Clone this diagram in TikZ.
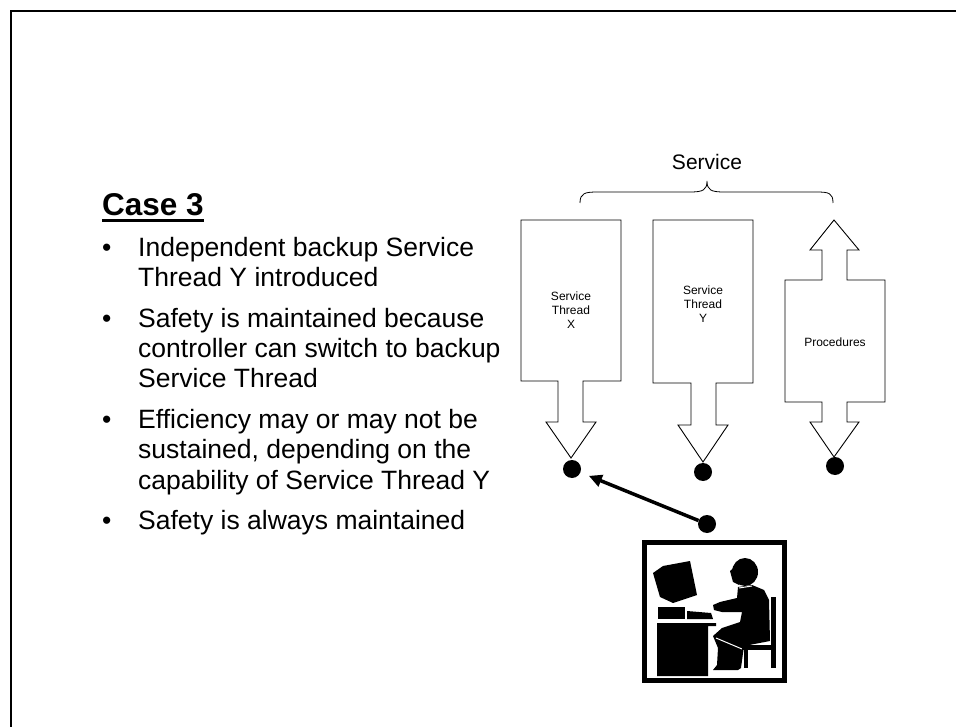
\documentclass[tikz,border=0pt]{standalone}
\usepackage{fontspec}
\setmainfont{Liberation Sans}
\usetikzlibrary{arrows.meta}
\begin{document}
\begin{tikzpicture}[x=1pt,y=-1pt,
  shapeline/.style={draw=black,line width=0.9pt,fill=white,line join=miter},
  dotnode/.style={circle,fill=black,inner sep=0pt,minimum size=18pt},
  bodytext/.style={anchor=base west,inner sep=0pt,font=\fontsize{26.5}{30}\selectfont},
  smalltext/.style={inner sep=0pt,align=center,font=\fontsize{12}{14}\selectfont},
  sil/.style={fill=black,draw=none}
]
\useasboundingbox (0,0) rectangle (956,727);
% frame
\draw[line width=2pt] (11,760) -- (11,11) -- (990,11);

% left text
\node[anchor=base west,inner sep=0pt,font=\fontsize{31.5}{34}\bfseries\selectfont] (case) at (102,216) {Case 3};
\draw[line width=2.5pt] ([yshift=-4.5pt]case.base west) -- ([yshift=-4.5pt]case.base east);

\node[bodytext] (b1) at (102,257) {•};
\node[bodytext] (l1) at (138,257) {Independent backup Service};
\node[bodytext] (l2) at (138,287) {Thread Y introduced};
\node[bodytext] (b2) at (102,327) {•};
\node[bodytext] (l3) at (138,327) {Safety is maintained because};
\node[bodytext] (l4) at (138,358) {controller can switch to backup};
\node[bodytext] (l5) at (138,388) {Service Thread};
\node[bodytext] (b3) at (102,428) {•};
\node[bodytext] (l6) at (138,428) {Efficiency may or may not be};
\node[bodytext] (l7) at (138,458) {sustained, depending on the};
\node[bodytext] (l8) at (138,489) {capability of Service Thread Y};
\node[bodytext] (b4) at (102,529) {•};
\node[bodytext] (l9) at (138,529) {Safety is always maintained};

% brace and label
\node[anchor=base,inner sep=0pt,font=\fontsize{21}{24}\selectfont] (svc) at (707,170) {Service};
\draw[line width=0.8pt] (580,203) .. controls (580,193) and (585,192) .. (598,192) -- (690,192) .. controls (703,192) and (707,190) .. (707,181) .. controls (707,190) and (711,192) .. (724,192) -- (816,192) .. controls (829,192) and (833,193) .. (833,203);

% Thread X
\draw[shapeline] (521,220) -- (621,220) -- (621,381) -- (583,381) -- (583,422) -- (596,422) -- (571,458) -- (546,422) -- (558,422) -- (558,381) -- (521,381) -- cycle;
\node[smalltext] (tx) at (571,310) {Service\\Thread\\X};
% Thread Y
\draw[shapeline] (653,220) -- (753,220) -- (753,383) -- (716,383) -- (716,425) -- (728,425) -- (703,462) -- (678,425) -- (691,425) -- (691,383) -- (653,383) -- cycle;
\node[smalltext] (ty) at (703,304) {Service\\Thread\\Y};
% Procedures
\draw[shapeline] (834,220) -- (859,250) -- (847,250) -- (847,280) -- (885,280) -- (885,402) -- (847,402) -- (847,422) -- (859,422) -- (834,457) -- (810,422) -- (822,422) -- (822,402) -- (785,402) -- (785,280) -- (822,280) -- (822,250) -- (810,250) -- cycle;
\node[anchor=base,inner sep=0pt,font=\fontsize{12}{14}\selectfont] (tp) at (835,346) {Procedures};

% dots
\node[dotnode] (dx) at (572,469) {};
\node[dotnode] (dy) at (703,472) {};
\node[dotnode] (dp) at (835,466) {};
\node[dotnode] (dc) at (707,524) {};

\draw[line width=3.5pt,-{Triangle[length=13pt,width=12pt]},shorten >=9pt] (dc) -- (dx);

% controller icon
\draw[line width=5pt] (644.5,542.5) rectangle (784.5,680.5);
\fill[sil] (653,573) -- (663,566) -- (690,561) -- (697,595) -- (673,603) -- (660,597) -- cycle;
\fill[sil] (658,607) rectangle (685,619);
\fill[sil] (687,611) -- (711,613) -- (713,619) -- (687,619) -- cycle;
\fill[sil] (657,623) -- (716,623) -- (716,626) -- (708,626) -- (708,676) -- (657,676) -- cycle;
\fill[sil] (745,572) ellipse (13 and 14);
\fill[sil] (730,571) -- (737,565) -- (739,585) -- (733,582) -- cycle;
\fill[sil] (738,587) -- (752,585) -- (764,590) -- (769,600) -- (770,641) -- (744,646) -- (741,668) -- (738,670) -- (713,670) -- (717,665) -- (718,648) -- (713,636) -- (722,628) -- (740,622) -- (742,612) -- (722,612) -- (714,610) -- (713,605) -- (720,602) -- (737,598) -- cycle;
\draw[white,line width=1pt] (739,588) -- (752,586);
\draw[white,line width=1pt] (716,638) -- (742,649);
\fill[sil] (771,597) rectangle (776,668);
\fill[sil] (742,645) rectangle (776,650);
\fill[sil] (744,650) rectangle (748,668);
\end{tikzpicture}
\end{document}
